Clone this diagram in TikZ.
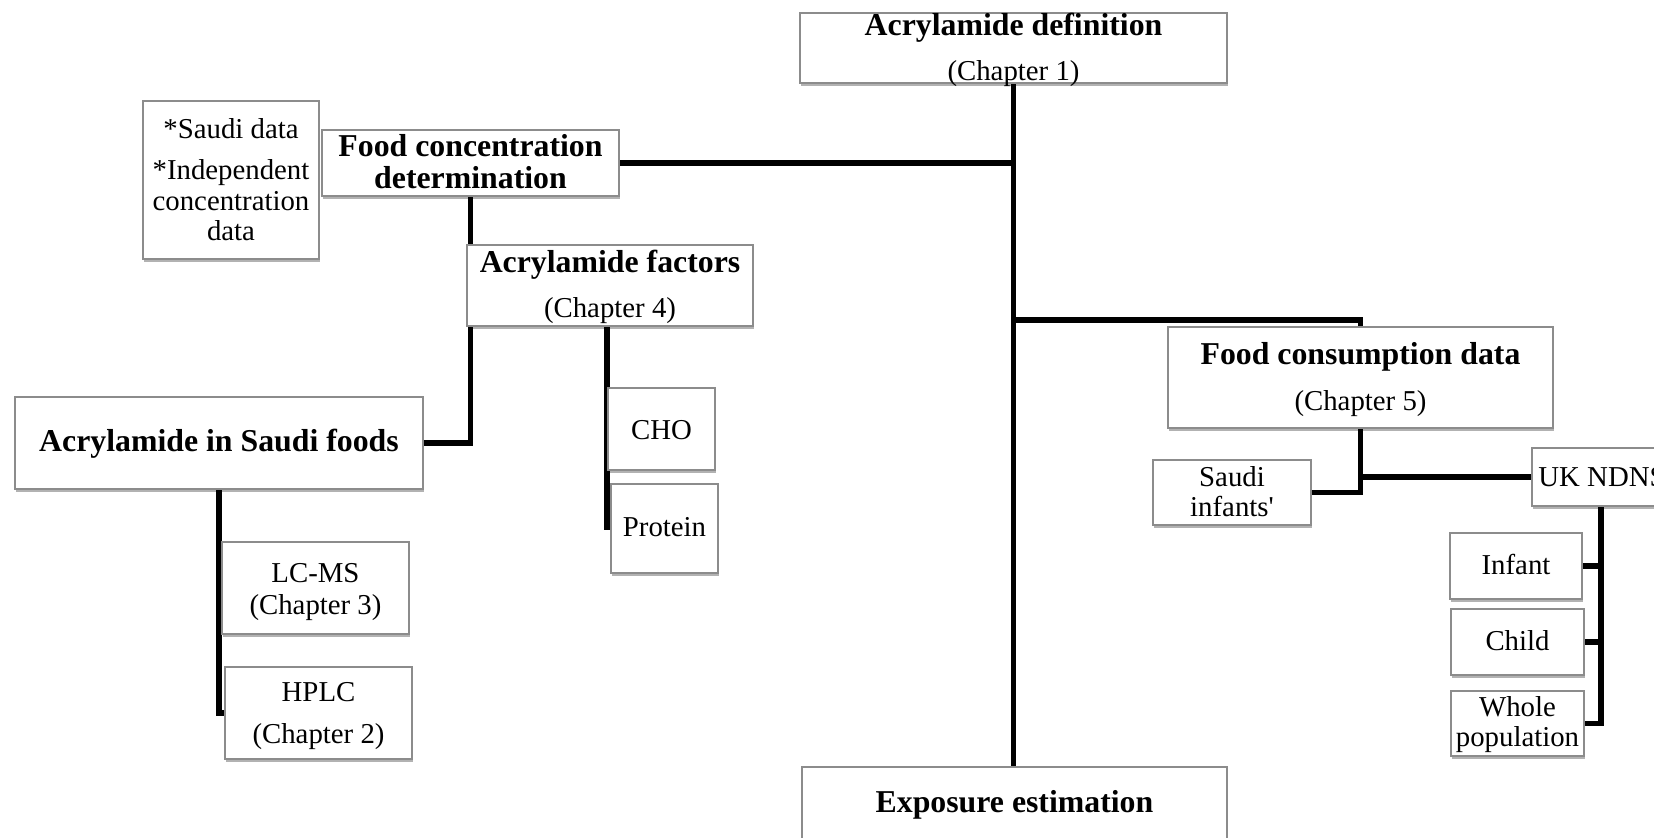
\documentclass[tikz,border=0pt]{standalone}
\usepackage{fontspec}
\setmainfont{Liberation Serif}
\usetikzlibrary{fit,shadows,backgrounds}
\begin{document}
\begin{tikzpicture}[x=0.5pt,y=-0.5pt,
  box/.style={draw=black!45, line width=0.6pt, fill=white, inner sep=0pt,
    drop shadow={shadow xshift=0.6pt, shadow yshift=-1.3pt, opacity=0.3, fill=black}},
  txt/.style={inner sep=0pt, anchor=base, font=\fontsize{14.4}{17}\selectfont},
  btxt/.style={txt, font=\fontsize{15.9}{19}\selectfont\bfseries},
  conn/.style={draw=black, line width=2.8pt}]
\useasboundingbox (0,0) rectangle (1654,837);
\clip (0,0) rectangle (1654,837);

% top and bottom of the spine
\node[box, fit={(800,13) (1227,83)}] (def) {};
\node[btxt] (def-a) at (1013.5,35) {Acrylamide definition};
\node[txt] (def-b) at (1013.5,80) {(Chapter 1)};

\node[box, fit={(802,767) (1227,860)}] (exp) {};
\node[btxt] (exp-a) at (1014.5,812) {Exposure estimation};

% concentration branch
\node[box, fit={(143,101) (319,259)}] (sdata) {};
\node[txt] (sdata-a) at (231,138) {*Saudi data};
\node[txt] (sdata-b) at (231,179) {*Independent};
\node[txt] (sdata-c) at (231,210) {concentration};
\node[txt] (sdata-d) at (231,240) {data};

\node[box, fit={(322,130) (619,196)}] (fcd) {};
\node[btxt] (fcd-a) at (470.5,156) {Food concentration};
\node[btxt] (fcd-b) at (470.5,188) {determination};

\node[box, fit={(467,245) (753,326)}] (fac) {};
\node[btxt] (fac-a) at (610,272) {Acrylamide factors};
\node[txt] (fac-b) at (610,317) {(Chapter 4)};

\node[box, fit={(608,388) (715,470)}] (cho) {};
\node[txt] (cho-a) at (661.5,439) {CHO};
\node[box, fit={(611,484) (718,573)}] (prot) {};
\node[txt] (prot-a) at (664.5,536) {Protein};

\node[box, fit={(15,397) (423,489)}] (asf) {};
\node[btxt] (asf-a) at (219,451) {Acrylamide in Saudi foods};

\node[box, fit={(222,542) (409,634)}] (lcms) {};
\node[txt] (lcms-a) at (315.5,582) {LC-MS};
\node[txt] (lcms-b) at (315.5,614) {(Chapter 3)};

\node[box, fit={(225,667) (412,759)}] (hplc) {};
\node[txt] (hplc-a) at (318.5,701) {HPLC};
\node[txt] (hplc-b) at (318.5,743) {(Chapter 2)};

% consumption branch
\node[box, fit={(1168,327) (1553,428)}] (fcons) {};
\node[btxt] (fcons-a) at (1360.5,364) {Food consumption data};
\node[txt] (fcons-b) at (1360.5,410) {(Chapter 5)};

\node[box, fit={(1153,460) (1311,525)}] (sinf) {};
\node[txt] (sinf-a) at (1232,486) {Saudi};
\node[txt] (sinf-b) at (1232,516) {infants\textquotesingle};

\node[box, fit={(1532,448) (1670,506)}] (uk) {};
\node[txt, anchor=base west] (uk-a) at (1538,486) {UK NDNS};

\node[box, fit={(1450,533) (1582,599)}] (infant) {};
\node[txt] (infant-a) at (1516,574) {Infant};
\node[box, fit={(1451,609) (1584,675)}] (child) {};
\node[txt] (child-a) at (1517.5,650) {Child};
\node[box, fit={(1451,691) (1584,756)}] (whole) {};
\node[txt] (whole-a) at (1517.5,716) {Whole};
\node[txt] (whole-b) at (1517.5,746) {population};

% connectors, kept behind the boxes
\coordinate (fcjoin) at (1013,320);
\coordinate (facend) at (607,530);
\begin{scope}[on background layer]
  \draw[conn] (def.south) -- (def.south |- exp.north);
  \draw[conn] (fcd.east) -- (fcd.east -| def.south);
  \draw[conn] (fcjoin) -| (fcons.north);
  \draw[conn] (fcons.south) |- (sinf.east);
  \draw[conn] (fcons.south |- uk.west) -- (uk.west);
  \draw[conn] (uk.south) |- (whole.east);
  \draw[conn] (infant.east) -- (infant.east -| uk.south);
  \draw[conn] (child.east) -- (child.east -| uk.south);
  \draw[conn] (fcd.south) |- (asf.east);
  \draw[conn] (facend |- fac.south) -- (facend);
  \draw[conn] (asf.south) |- (hplc.west);
\end{scope}
\end{tikzpicture}
\end{document}
